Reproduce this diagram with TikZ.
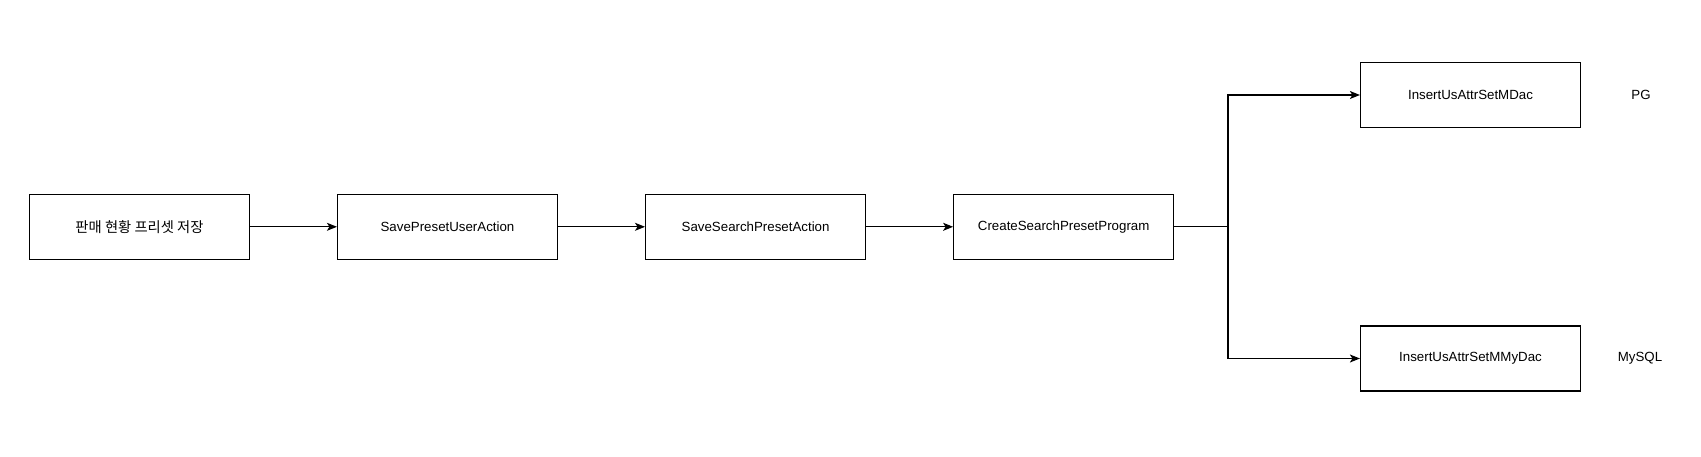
\documentclass[tikz,border=0pt]{standalone}
\usepackage{fontspec}
\setmainfont{Liberation Sans}
\newfontfamily\krfont{Noto Sans CJK KR}
\usetikzlibrary{arrows.meta}
\tikzset{
  stepbox/.style={draw,line width=1.2pt,minimum width=220pt,minimum height=65pt,inner sep=0pt,font=\fontsize{13.3}{15}\selectfont},
  flow/.style={line width=1.2pt,-{Stealth[length=10pt,width=8pt,inset=2.5pt]}}
}
\begin{document}
\begin{tikzpicture}[x=1pt,y=1pt]
\useasboundingbox (0,0) rectangle (1701,456);
\node[stepbox] (save) at (139.5,229.2) {\krfont\fontsize{14.3}{16}\selectfont 판매 현황 프리셋 저장};
\node[stepbox] (user) at (447.5,229.2) {SavePresetUserAction};
\node[stepbox] (search) at (755.6,229.2) {SaveSearchPresetAction};
\node[stepbox] (create) at (1063.7,229.2) {CreateSearchPresetProgram};
\node[stepbox] (pgdac) at (1470.5,361) {InsertUsAttrSetMDac};
\node[stepbox] (mydac) at (1470.5,97.5) {InsertUsAttrSetMMyDac};
\node[font=\fontsize{13.3}{15}\selectfont] (pg) at (1641,361) {PG};
\node[font=\fontsize{13.3}{15}\selectfont] (mysql) at (1640,97.5) {MySQL};
\coordinate (fork) at (1228,229.2);
\draw[flow] (save) -- (user);
\draw[flow] (user) -- (search);
\draw[flow] (search) -- (create);
\draw[flow] (create.east) -- (fork) |- (pgdac.west);
\draw[flow] (fork) |- (mydac.west);
\end{tikzpicture}
\end{document}
